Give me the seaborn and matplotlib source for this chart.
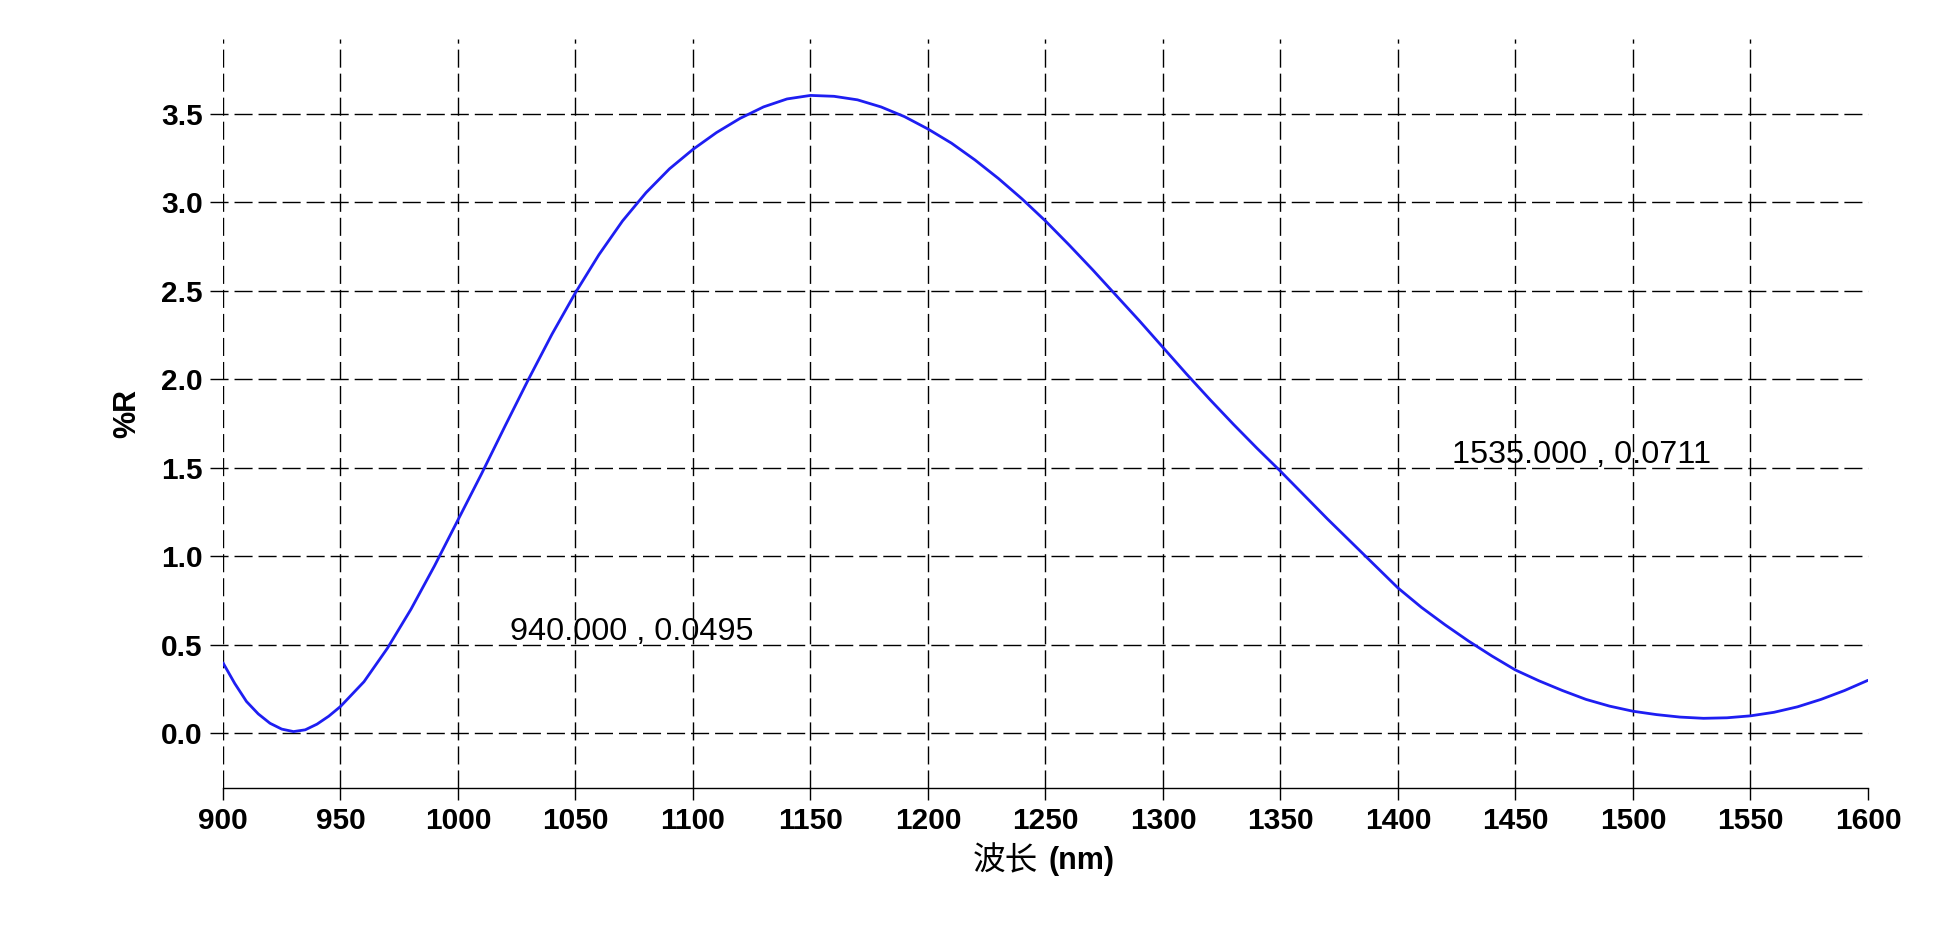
import numpy as np
import pandas as pd
import matplotlib
matplotlib.use("Agg")
import matplotlib.pyplot as plt
import seaborn as sns

# ---- data ----
wavelength = [900, 905, 910, 915, 920, 925, 930, 935, 940, 945,
              950, 960, 970, 980, 990,
              1000, 1010, 1020, 1030, 1040, 1050, 1060, 1070, 1080, 1090,
              1100, 1110, 1120, 1130, 1140, 1150, 1160, 1170, 1180, 1190,
              1200, 1210, 1220, 1230, 1240, 1250, 1260, 1270, 1280, 1290,
              1300, 1310, 1320, 1330, 1340, 1350, 1360, 1370, 1380, 1390,
              1400, 1410, 1420, 1430, 1440, 1450, 1460, 1470, 1480, 1490,
              1500, 1510, 1520, 1530, 1540, 1550, 1560, 1570, 1580, 1590,
              1600]
reflectance = [0.397, 0.280, 0.178, 0.108, 0.055, 0.022, 0.008, 0.018, 0.050, 0.095,
               0.150, 0.290, 0.480, 0.700, 0.945,
               1.205, 1.465, 1.735, 2.000, 2.255, 2.490, 2.705, 2.895, 3.055, 3.190,
               3.300, 3.395, 3.475, 3.540, 3.585, 3.605, 3.600, 3.580, 3.540, 3.485,
               3.415, 3.335, 3.240, 3.135, 3.020, 2.895, 2.760, 2.620, 2.475, 2.330,
               2.180, 2.030, 1.885, 1.745, 1.610, 1.480, 1.345, 1.210, 1.080, 0.950,
               0.820, 0.710, 0.612, 0.520, 0.435, 0.356, 0.295, 0.240, 0.190, 0.152,
               0.123, 0.104, 0.090, 0.083, 0.086, 0.097, 0.117, 0.148, 0.190, 0.240,
               0.298]
x_ticks = [900, 950, 1000, 1050, 1100, 1150, 1200, 1250, 1300, 1350,
           1400, 1450, 1500, 1550, 1600]
y_ticks = [0.0, 0.5, 1.0, 1.5, 2.0, 2.5, 3.0, 3.5]
annotations = [(1022.0, 0.526, "940.000 , 0.0495"),
               (1423.0, 1.526, "1535.000 , 0.0711")]

df = pd.DataFrame({"wavelength": wavelength, "reflectance": reflectance})

sns.set_theme(style="white")
plt.rcParams["font.family"] = ["Liberation Sans", "Noto Sans CJK SC", "DejaVu Sans"]

fig = plt.figure(figsize=(19.55, 9.52), dpi=100)
ax = fig.add_subplot(111)
fig.subplots_adjust(left=223/1955, right=1868/1955, top=1-39/952, bottom=1-788/952)

dash = (0, (13, 4.3))
for yv in y_ticks:
    ax.axhline(yv, xmin=-13/1645, xmax=1, color="black", lw=1.0,
               linestyle=dash, clip_on=False, zorder=1)
for xv in x_ticks[:-1]:
    ax.axvline(xv, color="black", lw=1.0, linestyle=dash, zorder=1)

sns.lineplot(data=df, x="wavelength", y="reflectance", ax=ax,
             color="#1e1ef2", linewidth=2.0, zorder=3)

ax.set_xlim(900, 1600)
ax.set_ylim(-0.311, 3.924)
ax.set_xticks(x_ticks)
ax.set_xticklabels([str(t) for t in x_ticks])
ax.set_yticks(y_ticks)
ax.set_yticklabels([f"{t:.1f}" for t in y_ticks])

for lab in ax.get_xticklabels() + ax.get_yticklabels():
    lab.set_fontweight("bold")
    lab.set_fontsize(21.5)
    lab.set_color("black")

ax.tick_params(axis="x", direction="out", length=8.6, width=1.0, color="black",
               pad=5, bottom=True)
ax.tick_params(axis="y", length=0, pad=14.4, left=True)

for s in ["top", "right", "left"]:
    ax.spines[s].set_visible(False)
ax.spines["bottom"].set_color("black")
ax.spines["bottom"].set_linewidth(1.0)

ax.set_ylabel("%R", fontsize=22, fontweight="bold", labelpad=14, color="black")
ax.set_xlabel("")

# x label: CJK part regular, unit part bold
ax.text((1038-223)/1645, (788-861)/749, "波长", transform=ax.transAxes,
        ha="right", va="center", fontsize=23.5, color="black",
        family=["Noto Sans CJK SC", "DejaVu Sans"], fontweight="light")
ax.text((1049-223)/1645, (788-861)/749, "(nm)", transform=ax.transAxes,
        ha="left", va="center", fontsize=22, color="black", fontweight="bold")

for xa, ya, txt in annotations:
    ax.text(xa, ya, txt, fontsize=23.3, color="black", ha="left", va="baseline",
            zorder=4)

fig.savefig("out.png", dpi=100, facecolor="white")
